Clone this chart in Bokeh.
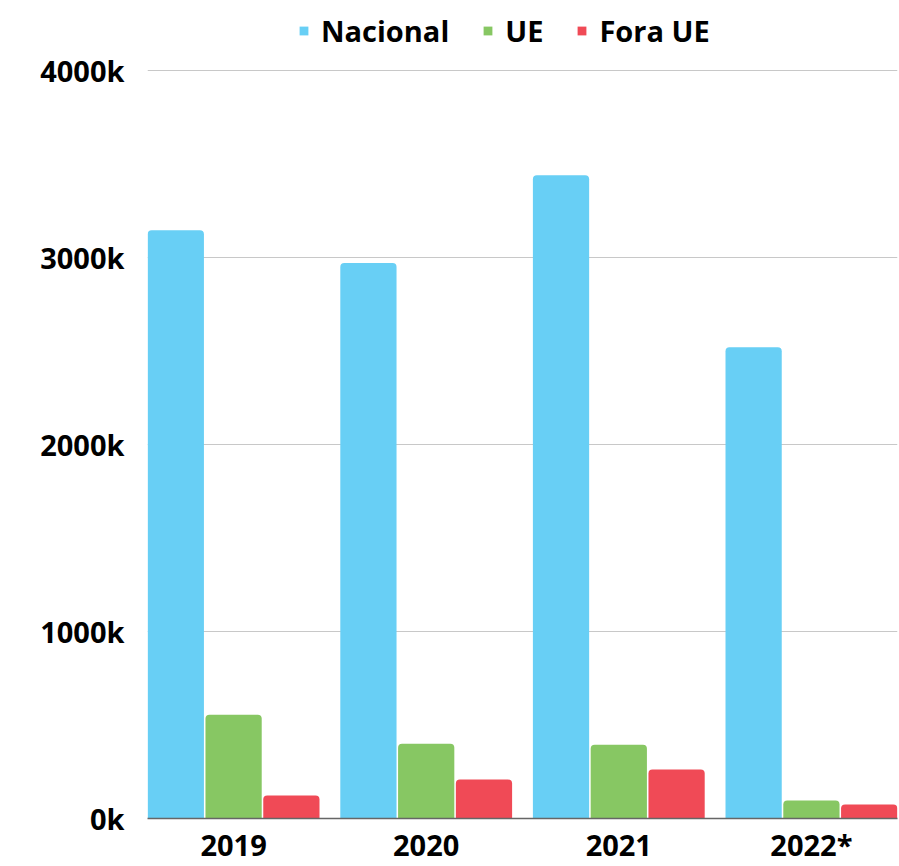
from bokeh.plotting import figure
from bokeh.models import ColumnDataSource, Range1d, FixedTicker, PrintfTickFormatter, Legend, LegendItem
from bokeh.transform import dodge
from bokeh.embed import file_html
from bokeh.resources import INLINE

years = ["2019", "2020", "2021", "2022*"]
nacional = [3145, 2970, 3440, 2520]   # thousands
ue = [555, 400, 395, 96]
fora_ue = [123, 208, 262, 75]
y_ticks = [0, 1000, 2000, 3000, 4000]

series_names = ["Nacional", "UE", "Fora UE"]
colors = ["#68CFF5", "#87C763", "#F04A56"]

xpos = list(range(len(years)))
src = ColumnDataSource(dict(x=xpos, nacional=nacional, ue=ue, fora=fora_ue))

FONT = "Open Sans"

# layout (pixels): frame spans the full top so the legend sits inside it
W, H = 899, 866
FRAME_BOTTOM = 819
TOP_TICK_PX = 70
y_end = max(y_ticks) * FRAME_BOTTOM / (FRAME_BOTTOM - TOP_TICK_PX)

p = figure(width=W, height=H, output_backend="svg", toolbar_location=None,
           x_range=Range1d(-0.447, len(years) - 1 + 0.447), y_range=Range1d(0, y_end),
           min_border_left=147, min_border_right=2, min_border_top=0, min_border_bottom=H - FRAME_BOTTOM)
p.outline_line_color = None
p.background_fill_color = "white"

renderers = []
for field, off, col in zip(["nacional", "ue", "fora"], [-0.3, 0.0, 0.3], colors):
    r = p.vbar(x=dodge("x", off), top=field, width=0.292, bottom=0, source=src,
               fill_color=col, line_color=None, border_radius=(4, 4, 0, 0))
    renderers.append(r)

legend = Legend(items=[LegendItem(label=n, renderers=[r]) for n, r in zip(series_names, renderers)],
                orientation="horizontal", location=(151, 768))
legend.label_text_font = FONT
legend.label_text_font_style = "bold"
legend.label_text_font_size = "29px"
legend.label_text_color = "black"
legend.glyph_width = 11
legend.glyph_height = 11
legend.label_standoff = 12
legend.spacing = 33
legend.padding = 0
legend.margin = 0
legend.border_line_color = None
legend.background_fill_alpha = 0
p.add_layout(legend, "center")

# y axis
p.yaxis.ticker = FixedTicker(ticks=y_ticks)
p.yaxis.formatter = PrintfTickFormatter(format="%dk")
p.yaxis.axis_line_color = None
p.yaxis.major_tick_line_color = None
p.yaxis.minor_tick_line_color = None
p.yaxis.major_tick_out = 0
p.yaxis.major_tick_in = 0
p.yaxis.minor_tick_out = 0
p.yaxis.major_label_standoff = 23
p.yaxis.major_label_text_font = FONT
p.yaxis.major_label_text_font_style = "bold"
p.yaxis.major_label_text_font_size = "29px"
p.yaxis.major_label_text_color = "black"

# x axis
p.xaxis.ticker = FixedTicker(ticks=xpos)
p.xaxis.major_label_overrides = {i: y for i, y in zip(xpos, years)}
p.xaxis.axis_line_color = "#666666"
p.xaxis.axis_line_width = 1.5
p.xaxis.major_tick_line_color = None
p.xaxis.minor_tick_line_color = None
p.xaxis.major_tick_out = 0
p.xaxis.major_tick_in = 0
p.xaxis.minor_tick_out = 0
p.xaxis.major_label_standoff = 6
p.xaxis.major_label_text_font = FONT
p.xaxis.major_label_text_font_style = "bold"
p.xaxis.major_label_text_font_size = "29px"
p.xaxis.major_label_text_color = "black"

p.xgrid.grid_line_color = None
p.ygrid.ticker = FixedTicker(ticks=y_ticks)
p.ygrid.grid_line_color = "#C8C8C8"
p.ygrid.grid_line_width = 1

open("out.html", "w").write(file_html(p, INLINE))
